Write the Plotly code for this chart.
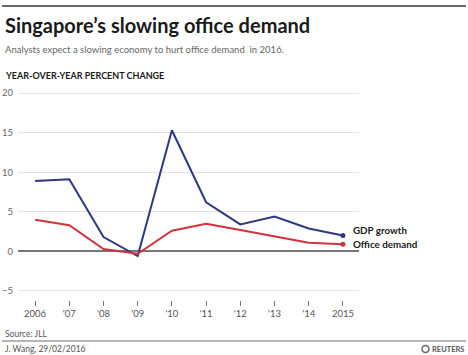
import plotly.graph_objects as go

years = [2006, 2007, 2008, 2009, 2010, 2011, 2012, 2013, 2014, 2015]
tick_labels = ["2006", "'07", "'08", "'09", "'10", "'11", "'12", "'13", "'14", "2015"]
gdp_growth = [8.9, 9.1, 1.8, -0.6, 15.3, 6.2, 3.4, 4.4, 2.9, 2.0]
office_demand = [4.0, 3.3, 0.3, -0.3, 2.6, 3.5, 2.7, 1.9, 1.1, 0.9]

W, H = 468, 355
L, R, T, B = 18, 359, 90, 300  # plot area pixels

def px(x):
    return (x - L) / (R - L)

def py(y):
    return (B - y) / (B - T)

FONT = "Lato"
NAVY = "#2f3783"
RED = "#d1323c"

fig = go.Figure()
fig.add_trace(go.Scatter(x=years, y=gdp_growth, mode="lines", line=dict(color=NAVY, width=2),
                         name="GDP growth", hoverinfo="skip"))
fig.add_trace(go.Scatter(x=years, y=office_demand, mode="lines", line=dict(color=RED, width=2),
                         name="Office demand", hoverinfo="skip"))
fig.add_trace(go.Scatter(x=[years[-1]], y=[gdp_growth[-1]], mode="markers",
                         marker=dict(color=NAVY, size=5), hoverinfo="skip", cliponaxis=False))
fig.add_trace(go.Scatter(x=[years[-1]], y=[office_demand[-1]], mode="markers",
                         marker=dict(color=RED, size=5), hoverinfo="skip", cliponaxis=False))

annotations = [
    dict(text="<b>Singapore’s slowing office demand</b>", x=px(3), y=py(25), xref="paper", yref="paper",
         xanchor="left", yanchor="middle", showarrow=False, font=dict(family=FONT, size=20, color="#1a1a1a")),
    dict(text="Analysts expect a slowing economy to hurt office demand  in 2016.", x=px(3), y=py(49),
         xref="paper", yref="paper", xanchor="left", yanchor="middle", showarrow=False,
         font=dict(family=FONT, size=9.5, color="#666666")),
    dict(text="<b>YEAR-OVER-YEAR PERCENT CHANGE</b>", x=px(3), y=py(75), xref="paper", yref="paper",
         xanchor="left", yanchor="middle", showarrow=False, font=dict(family=FONT, size=9, color="#1a1a1a")),
    dict(text="<b>GDP growth</b>", x=years[-1], y=gdp_growth[-1], xref="x", yref="y", xanchor="left",
         yanchor="bottom", xshift=8, yshift=-2, showarrow=False, font=dict(family=FONT, size=9.8, color="#1a1a1a")),
    dict(text="<b>Office demand</b>", x=years[-1], y=office_demand[-1], xref="x", yref="y", xanchor="left",
         yanchor="middle", xshift=8, showarrow=False, font=dict(family=FONT, size=9.8, color="#1a1a1a")),
    dict(text="Source: JLL", x=px(3), y=py(334), xref="paper", yref="paper", xanchor="left",
         yanchor="middle", showarrow=False, font=dict(family=FONT, size=8.5, color="#555555")),
    dict(text="J. Wang, 29/02/2016", x=px(3), y=py(349), xref="paper", yref="paper", xanchor="left",
         yanchor="middle", showarrow=False, font=dict(family=FONT, size=8.5, color="#555555")),
    dict(text="<b>REUTERS</b>", x=px(466), y=py(349), xref="paper", yref="paper", xanchor="right",
         yanchor="middle", showarrow=False, font=dict(family=FONT, size=7.5, color="#555555")),
]

shapes = [
    dict(type="line", xref="paper", yref="paper", x0=px(2), x1=px(466), y0=py(6), y1=py(6),
         line=dict(color="#6a6a6a", width=2)),
    dict(type="line", xref="paper", yref="paper", x0=px(2), x1=px(466), y0=py(341), y1=py(341),
         line=dict(color="#6a6a6a", width=1)),
    dict(type="circle", xref="paper", yref="paper", x0=px(422), x1=px(429), y0=py(345.5), y1=py(352.5),
         line=dict(color="#666666", width=1.5)),
]

fig.update_layout(
    width=W, height=H,
    margin=dict(l=L, r=W - R, t=T, b=H - B, autoexpand=False),
    paper_bgcolor="white", plot_bgcolor="white",
    showlegend=False,
    annotations=annotations,
    shapes=shapes,
    xaxis=dict(range=[2005.5, 2015.47], tickvals=years, ticktext=tick_labels, showgrid=False,
               zeroline=False, showline=False, ticks="outside", ticklen=5, tickwidth=1, automargin=False,
               tickcolor="#777777", tickfont=dict(family=FONT, size=9.5, color="#555555")),
    yaxis=dict(range=[-6.14, 20.38], tickvals=[-5, 0, 5, 10, 15, 20], showgrid=True, automargin=False,
               gridcolor="#e3e3e3", gridwidth=1, zeroline=True, zerolinecolor="#777777",
               zerolinewidth=1.5, showline=False, ticks="", ticklabelstandoff=4,
               tickfont=dict(family=FONT, size=9.5, color="#666666")),
)

fig.write_html("out.html", config={"displayModeBar": False},
               post_script="document.body.style.margin='0';document.body.style.overflow='hidden';")
